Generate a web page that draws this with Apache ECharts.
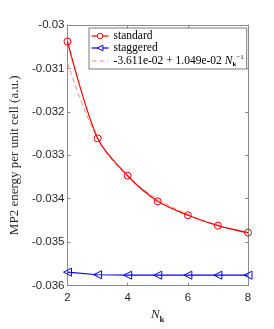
<!DOCTYPE html>
<html><head><meta charset="utf-8">
<script src="https://cdn.jsdelivr.net/npm/echarts@6/dist/echarts.min.js"></script>
<style>html,body{margin:0;padding:0;background:#fff}#c{width:274px;height:329px}</style>
</head><body><div id="c"></div>
<script>
const nk = [2, 3, 4, 5, 6, 7, 8];
const standard = [-0.03038, -0.03261, -0.03347, -0.03406, -0.03438, -0.03462, -0.03478];
const staggered = [-0.03569, -0.03575, -0.03576, -0.03576, -0.03576, -0.03576, -0.03576];
const fit = [-0.03087, -0.03261, -0.03349, -0.03401, -0.03436, -0.03461, -0.03480];
const yTicks = [-0.036, -0.035, -0.034, -0.033, -0.032, -0.031, -0.03];
const xTicks = [2, 4, 6, 8];

const pair = a => nk.map((x, i) => [x, a[i]]);
const axCol = '#262626';
const frame = '#8a8a8a';
const serif = 'Liberation Serif, serif';
const chart = echarts.init(document.getElementById('c'));
chart.setOption({
  animation: false,
  grid: {left: 56, right: 26, top: 25, bottom: 37, containLabel: false},
  legend: {
    orient: 'vertical', left: 89, top: 28, itemGap: 0, padding: [2, 3, 1, 2],
    itemWidth: 17, itemHeight: 7,
    borderColor: '#555', borderWidth: 0.8, backgroundColor: '#fff',
    textStyle: {fontFamily: serif, fontSize: 11, color: '#000',
      rich: {
        a: {fontFamily: serif, fontSize: 11.5, color: '#000', lineHeight: 14},
        i: {fontFamily: serif, fontStyle: 'italic', fontSize: 11.5, color: '#000', lineHeight: 14},
        s: {fontFamily: serif, fontWeight: 'bold', fontSize: 7, color: '#000', verticalAlign: 'bottom', lineHeight: 14},
        p: {fontFamily: serif, fontSize: 7, color: '#000', verticalAlign: 'top', lineHeight: 14}
      }},
    data: [
      {name: 'standard', itemStyle: {color: '#fff', borderColor: '#ff0000', borderWidth: 1}, lineStyle: {width: 1.2}},
      {name: 'staggered', itemStyle: {color: '#fff', borderColor: '#0000ff', borderWidth: 1}, lineStyle: {width: 1.2}},
      {name: 'fit', itemStyle: {color: 'transparent', borderColor: 'transparent', borderWidth: 0}, lineStyle: {width: 1}}
    ],
    formatter: n => n === 'fit' ? '{a|-3.611e-02 + 1.049e-02 }{i|N}{s|k}{p|−1}' : '{a|' + n + '}'
  },
  xAxis: [{
    type: 'value', min: 2, max: 8, interval: 2,
    name: '{i|N}{s|k}', nameLocation: 'middle', nameGap: 20,
    nameTextStyle: {rich: {
      i: {fontFamily: serif, fontStyle: 'italic', fontSize: 13, color: axCol},
      s: {fontFamily: serif, fontWeight: 'bold', fontSize: 9, color: axCol, verticalAlign: 'bottom', lineHeight: 18}
    }},
    axisLine: {lineStyle: {color: frame, width: 1}},
    axisTick: {inside: true, length: 3, lineStyle: {color: frame}},
    axisLabel: {color: axCol, fontSize: 11.5, fontFamily: 'Liberation Sans, Arial, sans-serif', margin: 6},
    splitLine: {show: false}
  }, {
    type: 'value', position: 'top', min: 2, max: 8, interval: 2,
    axisLine: {lineStyle: {color: frame, width: 1}},
    axisTick: {inside: true, length: 3, lineStyle: {color: frame}},
    axisLabel: {show: false}, splitLine: {show: false}
  }],
  yAxis: [{
    type: 'value', min: -0.036, max: -0.03, interval: 0.001,
    name: 'MP2 energy per unit cell (a.u.)', nameLocation: 'middle', nameGap: 42,
    nameTextStyle: {fontFamily: serif, fontSize: 13, color: axCol},
    axisLine: {show: true, lineStyle: {color: frame, width: 1}},
    axisTick: {show: true, inside: true, length: 3, lineStyle: {color: frame}},
    axisLabel: {color: axCol, fontSize: 11.5, fontFamily: 'Liberation Sans, Arial, sans-serif', margin: 3,
      formatter: v => String(+v.toFixed(3))},
    splitLine: {show: false}
  }, {
    type: 'value', position: 'right', min: -0.036, max: -0.03, interval: 0.001,
    axisLine: {show: true, lineStyle: {color: frame, width: 1}},
    axisTick: {show: true, inside: true, length: 3, lineStyle: {color: frame}},
    axisLabel: {show: false}, splitLine: {show: false}
  }],
  series: [
    {name: 'standard', type: 'line', data: pair(standard), smooth: 0.3, symbol: 'circle', symbolSize: 7,
      itemStyle: {color: 'transparent', borderColor: '#ff0000', borderWidth: 1},
      lineStyle: {color: '#ff0000', width: 1.2}, z: 3},
    {name: 'staggered', type: 'line', data: pair(staggered), symbol: 'triangle', symbolRotate: 90, symbolSize: 8,
      itemStyle: {color: 'transparent', borderColor: '#0000ff', borderWidth: 1},
      lineStyle: {color: '#0000ff', width: 1.2}, z: 3},
    {name: 'fit', type: 'line', data: pair(fit), smooth: 0.4, symbol: 'none',
      itemStyle: {color: '#f08a8a'},
      lineStyle: {color: '#f08a8a', width: 1, type: [5, 3]}, z: 2}
  ]
});
</script></body></html>
